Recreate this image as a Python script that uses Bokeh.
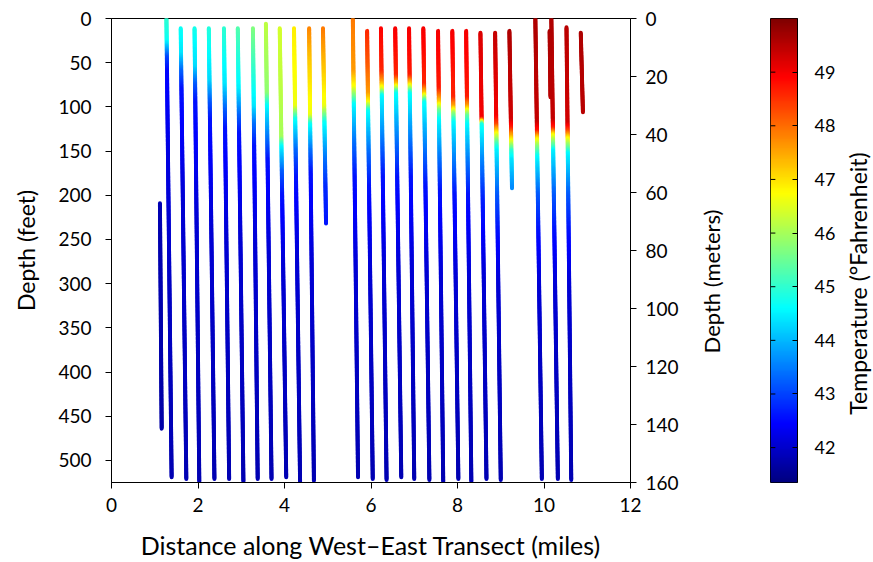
import numpy as np
from bokeh.plotting import figure
from bokeh.layouts import row
from bokeh.models import (Range1d, LinearAxis, FixedTicker, LinearColorMapper,
                          ColumnDataSource)
from bokeh.embed import file_html
from bokeh.resources import INLINE

# ---------------- data ----------------
# x position (miles) of each cast at its top and at its bottom
cast_x_top = [1.12, 1.27, 1.60, 1.92, 2.25, 2.60, 2.92, 3.27, 3.57, 3.89, 4.22, 4.57, 4.89,
              5.58, 5.91, 6.23, 6.56, 6.88, 7.21, 7.55, 7.88, 8.20, 8.53, 8.87, 9.20,
              9.80, 10.17, 10.13, 10.52, 10.85]
cast_x_bottom = [1.16, 1.39, 1.73, 2.03, 2.38, 2.72, 3.05, 3.38, 3.70, 4.04, 4.36, 4.68, 4.96,
                 5.70, 6.04, 6.36, 6.70, 7.00, 7.35, 7.67, 8.02, 8.32, 8.67, 9.00, 9.26,
                 9.95, 10.32, 10.15, 10.63, 10.90]
# depth (feet) / temperature (°F) profile points of each cast
cast_depths = [
    [209, 464],
    [0, 25, 45, 60, 150, 300, 519],
    [11, 40, 60, 80, 200, 350, 521],
    [11, 55, 75, 95, 220, 350, 524],
    [11, 70, 95, 115, 230, 350, 521],
    [11, 75, 105, 125, 240, 350, 521],
    [11, 80, 110, 130, 240, 350, 524],
    [11, 60, 100, 120, 145, 250, 360, 521],
    [6, 85, 100, 140, 160, 260, 360, 521],
    [11, 135, 145, 175, 200, 280, 380, 519],
    [11, 100, 115, 150, 180, 270, 380, 524],
    [11, 50, 110, 120, 150, 175, 270, 380, 523],
    [11, 60, 100, 118, 160, 190, 232],
    [0, 60, 78, 98, 140, 180, 280, 380, 519],
    [14, 50, 85, 95, 105, 150, 190, 280, 380, 521],
    [11, 60, 72, 80, 88, 140, 180, 280, 380, 522],
    [11, 65, 75, 85, 140, 180, 280, 380, 519],
    [11, 65, 75, 85, 140, 180, 280, 380, 521],
    [11, 75, 85, 95, 150, 190, 280, 380, 522],
    [14, 80, 95, 105, 115, 160, 195, 290, 380, 524],
    [14, 90, 100, 108, 118, 165, 200, 290, 380, 521],
    [14, 90, 100, 110, 120, 165, 200, 290, 380, 524],
    [16, 113, 120, 160, 205, 290, 380, 521],
    [16, 110, 120, 130, 142, 150, 200, 240, 300, 380, 522],
    [14, 115, 125, 138, 150, 160, 192],
    [0, 118, 128, 136, 145, 157, 200, 240, 300, 380, 521],
    [0, 115, 125, 132, 145, 150, 200, 240, 300, 380, 521],
    [14, 89],
    [10, 119, 128, 136, 153, 200, 240, 300, 380, 522],
    [16, 106],
]
cast_temps = [
    [41.8, 41.7],
    [45.0, 44.7, 43.0, 42.5, 42.2, 41.95, 41.8],
    [44.7, 44.4, 43.3, 42.6, 42.1, 41.95, 41.8],
    [44.8, 44.3, 43.2, 42.6, 42.1, 41.95, 41.8],
    [44.9, 44.3, 43.2, 42.6, 42.1, 41.95, 41.8],
    [45.0, 44.4, 43.2, 42.6, 42.1, 41.95, 41.8],
    [45.3, 44.5, 43.3, 42.6, 42.1, 41.95, 41.8],
    [45.7, 45.0, 44.4, 43.4, 42.6, 42.1, 41.95, 41.8],
    [46.2, 45.8, 44.6, 43.3, 42.6, 42.1, 41.95, 41.8],
    [46.4, 46.0, 44.6, 43.2, 42.6, 42.1, 41.95, 41.8],
    [46.9, 46.6, 44.7, 43.3, 42.6, 42.1, 41.95, 41.8],
    [47.8, 47.2, 46.6, 44.7, 43.4, 42.6, 42.1, 41.95, 41.8],
    [47.9, 47.2, 46.6, 44.7, 43.4, 42.8, 42.6],
    [47.9, 47.6, 46.7, 44.6, 43.4, 42.6, 42.1, 41.95, 41.8],
    [48.6, 48.2, 47.6, 46.8, 44.7, 43.4, 42.6, 42.1, 41.95, 41.8],
    [48.9, 48.6, 47.6, 46.5, 44.6, 43.4, 42.6, 42.1, 41.95, 41.8],
    [49.0, 48.6, 47.2, 44.7, 43.4, 42.6, 42.1, 41.95, 41.8],
    [49.0, 48.7, 47.0, 44.7, 43.4, 42.6, 42.1, 41.95, 41.8],
    [49.0, 48.6, 47.2, 44.7, 43.4, 42.6, 42.1, 41.95, 41.8],
    [49.0, 48.7, 47.2, 45.5, 44.6, 43.4, 42.6, 42.1, 41.95, 41.8],
    [49.0, 48.6, 47.5, 45.8, 44.6, 43.4, 42.6, 42.1, 41.95, 41.8],
    [49.0, 48.7, 47.5, 45.5, 44.6, 43.4, 42.6, 42.1, 41.95, 41.8],
    [49.2, 49.0, 44.8, 43.6, 42.7, 42.1, 41.95, 41.8],
    [49.4, 49.0, 48.4, 46.8, 45.2, 44.5, 43.2, 42.6, 42.1, 41.95, 41.8],
    [49.6, 49.3, 48.6, 46.8, 45.0, 44.4, 43.6],
    [49.6, 49.4, 48.7, 47.0, 45.8, 44.6, 43.2, 42.6, 42.1, 41.95, 41.8],
    [49.6, 49.4, 48.6, 46.8, 45.2, 44.5, 43.2, 42.6, 42.1, 41.95, 41.8],
    [49.6, 49.5],
    [49.5, 49.3, 48.3, 46.8, 44.6, 43.2, 42.6, 42.1, 41.95, 41.8],
    [49.6, 49.5],
]
feet_ticks = [0, 50, 100, 150, 200, 250, 300, 350, 400, 450, 500]
meter_ticks = [0, 20, 40, 60, 80, 100, 120, 140, 160]
mile_ticks = [0, 2, 4, 6, 8, 10, 12]
temp_ticks = [42, 43, 44, 45, 46, 47, 48, 49]
temp_low, temp_high = 41.35, 50.0
depth_max_m = 160
depth_max_ft = depth_max_m / 0.3048

FONT = "Lato"

# ---------------- jet colour map ----------------
tt = np.linspace(0, 1, 256)
rr = np.clip(1.5 - np.abs(4 * tt - 3), 0, 1)
gg = np.clip(1.5 - np.abs(4 * tt - 2), 0, 1)
bb = np.clip(1.5 - np.abs(4 * tt - 1), 0, 1)
jet = ["#%02x%02x%02x" % (int(round(a * 255)), int(round(b * 255)), int(round(c * 255)))
       for a, b, c in zip(rr, gg, bb)]
mapper = LinearColorMapper(palette=jet, low=temp_low, high=temp_high)

# ---------------- gradient segments along each cast ----------------
x0s, y0s, x1s, y1s, ts = [], [], [], [], []
for xt, xb, ds, tps in zip(cast_x_top, cast_x_bottom, cast_depths, cast_temps):
    d_top, d_bot = ds[0], ds[-1]
    for i in range(len(ds) - 1):
        n = max(1, int(np.ceil((ds[i + 1] - ds[i]) / 1.5)))
        dd = np.linspace(ds[i], ds[i + 1], n + 1)
        tv = np.linspace(tps[i], tps[i + 1], n + 1)
        xx = xt + (xb - xt) * (dd - d_top) / (d_bot - d_top)
        x0s += list(xx[:-1]); x1s += list(xx[1:])
        y0s += list(dd[:-1]); y1s += list(dd[1:])
        ts += list(0.5 * (tv[:-1] + tv[1:]))
src = ColumnDataSource(dict(x0=x0s, y0=y0s, x1=x1s, y1=y1s, t=ts))


def style_axis(ax, ticks, label_size="21px", tick_size="19px"):
    ax.ticker = FixedTicker(ticks=ticks)
    ax.axis_line_color = "black"
    ax.major_tick_line_color = "black"
    ax.major_tick_out = 6
    ax.major_tick_in = 0
    ax.minor_tick_line_color = None
    ax.major_label_text_font = FONT
    ax.major_label_text_font_size = tick_size
    ax.major_label_text_color = "black"
    ax.axis_label_text_font = FONT
    ax.axis_label_text_font_size = label_size
    ax.axis_label_text_font_style = "normal"
    ax.axis_label_text_color = "black"


# ---------------- main plot ----------------
p = figure(frame_width=519, frame_height=464,
           x_range=Range1d(0, 12), y_range=Range1d(depth_max_ft, 0),
           output_backend="svg", toolbar_location=None, frame_align=False,
           min_border_left=111, min_border_top=18, min_border_bottom=80,
           min_border_right=52)
p.extra_y_ranges = {"m": Range1d(depth_max_m, 0)}
p.grid.visible = False
p.outline_line_color = "black"
p.outline_line_alpha = 1

p.segment("x0", "y0", "x1", "y1", source=src, line_width=4, line_cap="round",
          line_color={"field": "t", "transform": mapper})

style_axis(p.xaxis[0], mile_ticks, "25px")
p.xaxis[0].axis_label = "Distance along West–East Transect (miles)"
p.xaxis[0].major_label_standoff = 9
p.xaxis[0].axis_label_standoff = 15

style_axis(p.yaxis[0], feet_ticks, "23px")
p.yaxis[0].axis_label = "Depth (feet)"
p.yaxis[0].major_label_standoff = 14
p.yaxis[0].axis_label_standoff = 15

ax_m = LinearAxis(y_range_name="m")
style_axis(ax_m, meter_ticks)
ax_m.major_label_standoff = 9
p.add_layout(ax_m, "right")


def label_only(text, size, standoff, left, top, fh, bottom):
    f = figure(frame_width=1, frame_height=fh, x_range=Range1d(0, 1),
               y_range=Range1d(0, 1), output_backend="svg", toolbar_location=None,
               frame_align=False,
               min_border_left=left, min_border_right=0, min_border_top=top,
               min_border_bottom=bottom)
    f.xaxis.visible = False
    f.grid.visible = False
    f.outline_line_color = None
    ax = f.yaxis[0]
    ax.ticker = FixedTicker(ticks=[])
    ax.axis_line_color = None
    ax.major_tick_line_color = None
    ax.minor_tick_line_color = None
    ax.major_tick_out = 0
    ax.axis_label = text
    ax.axis_label_text_font = FONT
    ax.axis_label_text_font_size = size
    ax.axis_label_text_font_style = "normal"
    ax.axis_label_text_color = "black"
    ax.axis_label_standoff = standoff
    return f


# "Depth (meters)" label, reading bottom-to-top
pm = label_only("Depth (meters)", "22px", 0, 42, 82, 398, 82)

# ---------------- colour bar ----------------
pc = figure(frame_width=27, frame_height=464, x_range=Range1d(0, 1),
            y_range=Range1d(temp_low, temp_high), output_backend="svg",
            toolbar_location=None, y_axis_location="right", frame_align=False,
            min_border_left=45, min_border_right=0, min_border_top=18,
            min_border_bottom=80)
pc.xaxis.visible = False
pc.grid.visible = False
pc.outline_line_color = "black"
grad = np.linspace(temp_low, temp_high, 512).reshape(-1, 1)
pc.image(image=[grad], x=0, y=temp_low, dw=1, dh=temp_high - temp_low,
         color_mapper=mapper)
# short tick marks on the left edge of the bar
pc.segment(x0=[0] * len(temp_ticks), y0=temp_ticks,
           x1=[0.18] * len(temp_ticks), y1=temp_ticks, line_color="black", line_width=1)
cax = pc.yaxis[0]
style_axis(cax, temp_ticks, tick_size="18px")
cax.major_tick_out = 0
cax.major_tick_in = 5
cax.major_label_standoff = 17

# colour bar title, reading bottom-to-top
pt = label_only("Temperature (°Fahrenheit)", "23px", 0, 33, 83, 400, 79)

layout = row(p, pm, pc, pt)
open("out.html", "w").write(file_html(layout, INLINE))
